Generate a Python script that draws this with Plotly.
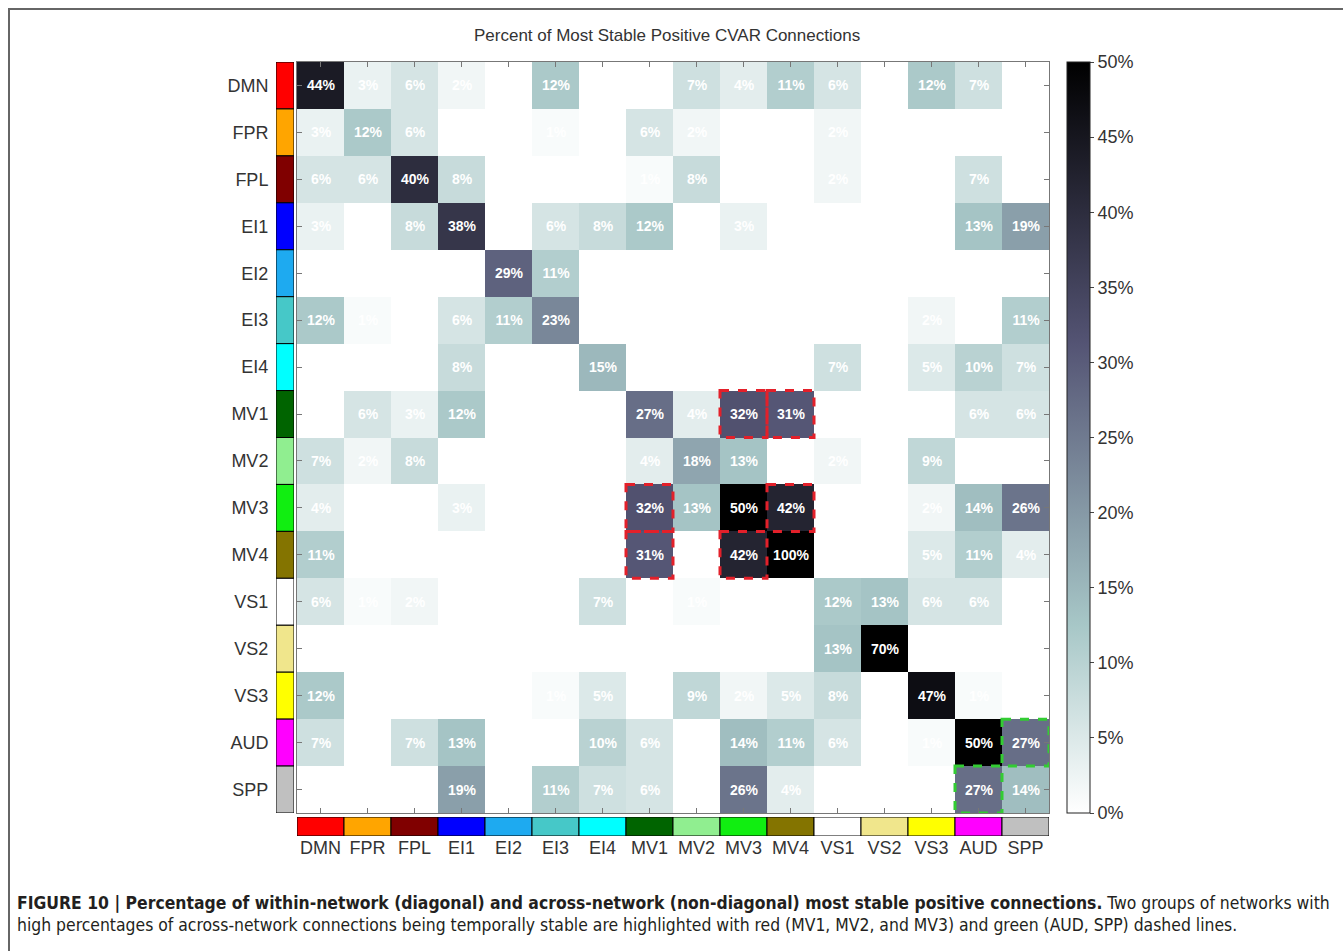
import plotly.graph_objects as go

labels = ["DMN", "FPR", "FPL", "EI1", "EI2", "EI3", "EI4", "MV1", "MV2", "MV3",
          "MV4", "VS1", "VS2", "VS3", "AUD", "SPP"]

network_colors = ["#ff0000", "#ffa500", "#800000", "#0000ff", "#1eaaf0", "#46c8c8",
                  "#00ffff", "#006400", "#90ee90", "#11ee11", "#847400", "#ffffff",
                  "#f0e68c", "#ffff00", "#ff00ff", "#c0c0c0"]

row_DMN = [44, 3, 6, 2, 0, 12, 0, 0, 7, 4, 11, 6, 0, 12, 7, 0]
row_FPR = [3, 12, 6, 0, 0, 1, 0, 6, 2, 0, 0, 2, 0, 0, 0, 0]
row_FPL = [6, 6, 40, 8, 0, 0, 0, 1, 8, 0, 0, 2, 0, 0, 7, 0]
row_EI1 = [3, 0, 8, 38, 0, 6, 8, 12, 0, 3, 0, 0, 0, 0, 13, 19]
row_EI2 = [0, 0, 0, 0, 29, 11, 0, 0, 0, 0, 0, 0, 0, 0, 0, 0]
row_EI3 = [12, 1, 0, 6, 11, 23, 0, 0, 0, 0, 0, 0, 0, 2, 0, 11]
row_EI4 = [0, 0, 0, 8, 0, 0, 15, 0, 0, 0, 0, 7, 0, 5, 10, 7]
row_MV1 = [0, 6, 3, 12, 0, 0, 0, 27, 4, 32, 31, 0, 0, 0, 6, 6]
row_MV2 = [7, 2, 8, 0, 0, 0, 0, 4, 18, 13, 0, 2, 0, 9, 0, 0]
row_MV3 = [4, 0, 0, 3, 0, 0, 0, 32, 13, 50, 42, 0, 0, 2, 14, 26]
row_MV4 = [11, 0, 0, 0, 0, 0, 0, 31, 0, 42, 100, 0, 0, 5, 11, 4]
row_VS1 = [6, 1, 2, 0, 0, 0, 7, 0, 1, 0, 0, 12, 13, 6, 6, 0]
row_VS2 = [0, 0, 0, 0, 0, 0, 0, 0, 0, 0, 0, 13, 70, 0, 0, 0]
row_VS3 = [12, 0, 0, 0, 0, 1, 5, 0, 9, 2, 5, 8, 0, 47, 1, 0]
row_AUD = [7, 0, 7, 13, 0, 0, 10, 6, 0, 14, 11, 6, 0, 1, 50, 27]
row_SPP = [0, 0, 0, 19, 0, 11, 7, 6, 0, 26, 4, 0, 0, 0, 27, 14]

z = [row_DMN, row_FPR, row_FPL, row_EI1, row_EI2, row_EI3, row_EI4, row_MV1,
     row_MV2, row_MV3, row_MV4, row_VS1, row_VS2, row_VS3, row_AUD, row_SPP]

colorbar_ticks = [0, 5, 10, 15, 20, 25, 30, 35, 40, 45, 50]

red_highlight = [("MV1", "MV3"), ("MV1", "MV4"), ("MV3", "MV1"), ("MV4", "MV1"),
                 ("MV3", "MV4"), ("MV4", "MV3")]
green_highlight = [("AUD", "SPP"), ("SPP", "AUD")]

text = [[(f"{v}%" if v > 0 else "") for v in row] for row in z]

# reversed MATLAB "bone"
bone_r = [[0.0, "rgb(255,255,255)"], [0.25, "rgb(167,199,199)"],
          [0.625, "rgb(84,84,116)"], [1.0, "rgb(0,0,0)"]]

W, H = 1343, 951
def px_x(p):
    return p / W
def px_y(p):
    return 1 - p / H

fig = go.Figure()

fig.add_trace(go.Heatmap(
    z=z, x=labels, y=labels, text=text, texttemplate="%{text}",
    textfont=dict(color="white", size=14, family="Liberation Sans, Arial", weight="bold"),
    colorscale=bone_r, zmin=0, zmax=50, xaxis="x", yaxis="y",
    colorbar=dict(
        x=px_x(1067), xanchor="left", y=(px_y(62) + px_y(813)) / 2, yanchor="middle",
        len=px_y(62) - px_y(813), lenmode="fraction", thickness=23, thicknessmode="pixels",
        xpad=0, ypad=0, outlinewidth=1, outlinecolor="#222",
        tickvals=colorbar_ticks, ticktext=[f"{t}%" for t in colorbar_ticks],
        ticks="outside", ticklen=4, tickcolor="#444",
        tickfont=dict(size=18, color="#333", family="Liberation Sans, Arial"),
    ),
    hoverinfo="skip",
))

# left colour strip
fig.add_trace(go.Bar(
    x=[1] * len(labels), y=labels, orientation="h", base=0, width=1,
    marker=dict(color=network_colors, line=dict(color="black", width=1)),
    xaxis="x2", yaxis="y", showlegend=False, hoverinfo="skip",
))
# bottom colour strip
fig.add_trace(go.Bar(
    x=labels, y=[1] * len(labels), base=0, width=1,
    marker=dict(color=network_colors, line=dict(color="black", width=1)),
    xaxis="x", yaxis="y3", showlegend=False, hoverinfo="skip",
))

axis_font = dict(size=18, color="#333", family="Liberation Sans, Arial")
fig.update_layout(
    width=W, height=H, margin=dict(l=0, r=0, t=0, b=0),
    paper_bgcolor="white", plot_bgcolor="white", showlegend=False,
    xaxis=dict(domain=[px_x(297), px_x(1049)], anchor="y", type="category",
               categoryorder="array", categoryarray=labels, range=[-0.5, 15.5],
               showline=True, linecolor="#777", linewidth=1, mirror="ticks",
               ticks="inside", ticklen=5, tickcolor="#777",
               tickfont=axis_font, ticklabelstandoff=18,
               showgrid=False, zeroline=False),
    yaxis=dict(domain=[px_y(813), px_y(62)], anchor="x", type="category",
               categoryorder="array", categoryarray=labels, range=[15.5, -0.5],
               showline=True, linecolor="#777", linewidth=1, mirror="ticks",
               ticks="inside", ticklen=5, tickcolor="#777",
               tickfont=axis_font, ticklabelstandoff=24,
               showgrid=False, zeroline=False),
    xaxis2=dict(domain=[px_x(276), px_x(294)], anchor="y", range=[0, 1],
                visible=False, fixedrange=True),
    yaxis3=dict(domain=[px_y(836), px_y(817)], anchor="x", range=[0, 1],
                visible=False, fixedrange=True),
)

idx = {n: i for i, n in enumerate(labels)}
for group, col in ((red_highlight, "#e3202a"), (green_highlight, "#33cc33")):
    for r, c in group:
        ci, ri = idx[c], idx[r]
        fig.add_shape(type="rect", xref="x", yref="y",
                      x0=ci - 0.5, x1=ci + 0.5, y0=ri - 0.5, y1=ri + 0.5,
                      line=dict(color=col, width=3, dash="dash"), layer="above")

# outer frame
fig.add_shape(type="rect", xref="paper", yref="paper",
              x0=px_x(9), x1=1.05, y0=-0.05, y1=px_y(9),
              line=dict(color="#666", width=2))

fig.add_annotation(text="Percent of Most Stable Positive CVAR Connections",
                   xref="paper", yref="paper", x=px_x(667), y=px_y(36),
                   xanchor="center", yanchor="middle", showarrow=False,
                   font=dict(size=17, color="#333", family="Liberation Sans, Arial"))

cap_font = dict(size=17.4, color="#231f20",
                family="Liberation Sans Narrow, DejaVu Sans Condensed, Roboto Condensed, Liberation Sans")
fig.add_annotation(
    text="<b>FIGURE 10 | Percentage of within-network (diagonal) and across-network (non-diagonal) most stable positive connections.</b> Two groups of networks with",
    xref="paper", yref="paper", x=px_x(15), y=px_y(903), xanchor="left", yanchor="middle",
    showarrow=False, font=cap_font)
fig.add_annotation(
    text="high percentages of across-network connections being temporally stable are highlighted with red (MV1, MV2, and MV3) and green (AUD, SPP) dashed lines.",
    xref="paper", yref="paper", x=px_x(15), y=px_y(925), xanchor="left", yanchor="middle",
    showarrow=False, font=cap_font)

fig.write_html("out.html", config={"displayModeBar": False},
               post_script="document.body.style.margin='0';document.body.style.overflow='hidden';")
